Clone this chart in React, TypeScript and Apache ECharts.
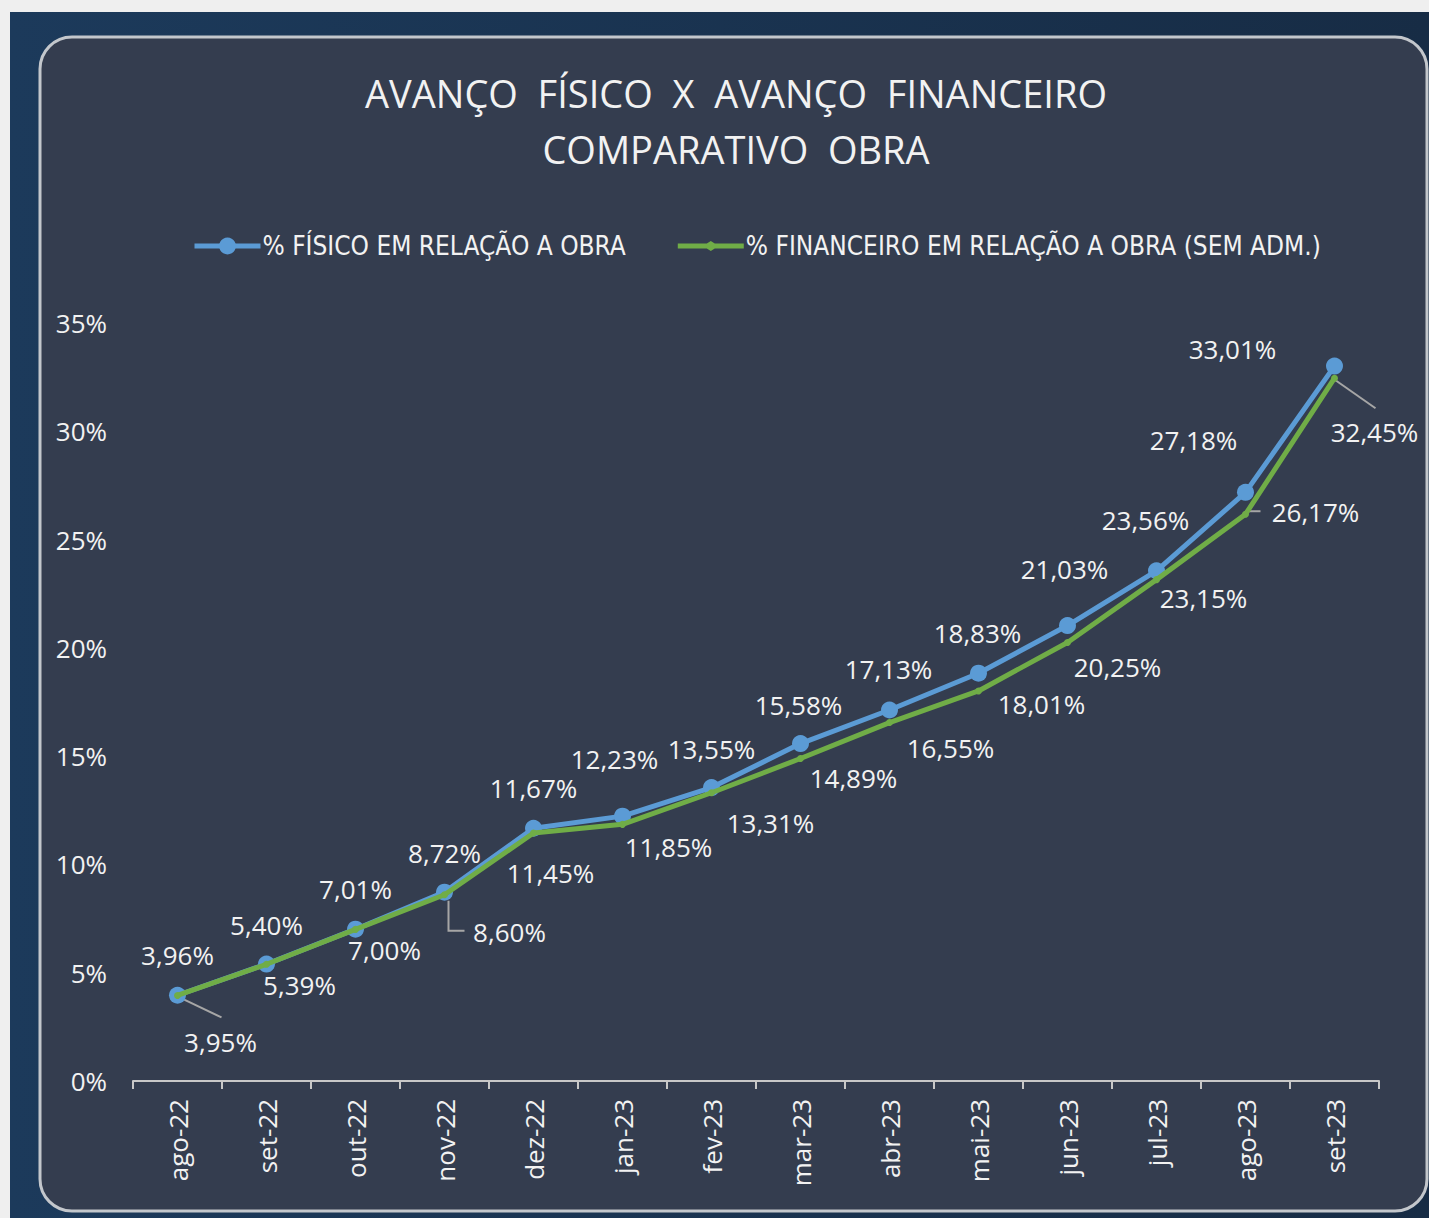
import React, { useEffect, useRef } from "react";
import * as echarts from "echarts";

const categories = ["ago-22", "set-22", "out-22", "nov-22", "dez-22", "jan-23", "fev-23", "mar-23", "abr-23", "mai-23", "jun-23", "jul-23", "ago-23", "set-23"];
const fisico = [3.96, 5.40, 7.01, 8.72, 11.67, 12.23, 13.55, 15.58, 17.13, 18.83, 21.03, 23.56, 27.18, 33.01];
const financeiro = [3.95, 5.39, 7.00, 8.60, 11.45, 11.85, 13.31, 14.89, 16.55, 18.01, 20.25, 23.15, 26.17, 32.45];
const yTicks = [0, 5, 10, 15, 20, 25, 30, 35];

const seriesNames = ["% FÍSICO EM RELAÇÃO A OBRA", "% FINANCEIRO EM RELAÇÃO A OBRA (SEM ADM.)"];

// label placement (offset of label centre from point, px)
const fisicoLabelOffsets = [
  [0, -40], [0, -39], [0, -40], [0, -39], [0, -40], [-8, -57], [0, -39],
  [-2, -39], [-1, -41], [-1, -40], [-3, -57], [-11, -51], [-52, -52], [-102, -17],
];
const financeiroLabelOffsets = [
  [43, 47], [33, 21], [29, 21], [65, 37], [17, 40], [46, 23], [59, 30],
  [53, 19], [61, 25], [63, 13], [50, 25], [47, 18], [70, -2], [40, 54],
];
// leader line shapes (offsets from point, px) for some financeiro labels
const leaderShapes: Record<number, number[][]> = {
  0: [[2, 2], [44, 22]],
  3: [[4, 6], [4, 36], [20, 36]],
  12: [[0, -3], [15, -3]],
  13: [[1, 2], [41, 30]],
};

const fmt = (v: number) => v.toFixed(2).replace(".", ",") + "%";

// legend icon: thick line with a small diamond marker
const greenLegendIcon =
  "path://M0,8.5L29,8.5L33,6L37,8.5L66,8.5L66,13.5L37,13.5L33,16L29,13.5L0,13.5Z";

export default function App() {
  const ref = useRef<HTMLDivElement>(null);
  useEffect(() => {
    if (!ref.current) return;
    const chart = echarts.init(ref.current, null, { renderer: "svg" });
    const labelFont = { fontFamily: "Open Sans", fontSize: 26, color: "#f2f2f2" };
    const mkLayout = (offs: number[][]) => (params: any) => {
      const o = offs[params.dataIndex] || [0, 0];
      const r = params.rect;
      return {
        x: r.x + r.width / 2 + o[0],
        y: r.y + r.height / 2 + o[1],
        align: "center",
        verticalAlign: "middle",
      };
    };
    chart.setOption({
      animation: false,
      graphic: [
        { type: "rect", z: -10, shape: { x: 0, y: 0, width: 1429, height: 1218 }, style: { fill: "#efefef" }, silent: true },
        {
          type: "rect", z: -9, shape: { x: 10, y: 12, width: 1419, height: 1206 },
          style: {
            fill: new echarts.graphic.LinearGradient(0, 0, 1, 0, [
              { offset: 0, color: "#1c3a5b" },
              { offset: 1, color: "#172c45" },
            ]),
          },
          silent: true,
        },
        {
          type: "rect", z: -8, shape: { x: 40, y: 37, width: 1387, height: 1174, r: 32 },
          style: { fill: "#343d4f", stroke: "#c3c7cc", lineWidth: 3 },
          silent: true,
        },
      ],
      title: {
        text: "AVANÇO  FÍSICO  X  AVANÇO  FINANCEIRO\nCOMPARATIVO  OBRA",
        left: 731,
        textAlign: "center",
        top: 60,
        textStyle: { fontFamily: "Open Sans", fontSize: 38, fontWeight: "normal", color: "#f2f2f2", lineHeight: 56 },
      },
      legend: {
        left: 187,
        top: 228,
        itemWidth: 66,
        itemHeight: 21,
        itemGap: 52,
        textStyle: { fontFamily: "Liberation Sans Narrow, DejaVu Sans Condensed, sans-serif", fontSize: 26, color: "#f2f2f2", padding: [0, 0, 0, -3] },
        data: [
          { name: seriesNames[0], itemStyle: { color: "#5b9bd5" }, lineStyle: { color: "#5b9bd5", width: 5 } },
          { name: seriesNames[1], icon: greenLegendIcon, itemStyle: { color: "#70ad47" } },
        ],
      },
      grid: { left: 133, right: 50, top: 323, bottom: 137 },
      xAxis: {
        type: "category",
        data: categories,
        boundaryGap: true,
        axisLine: { lineStyle: { color: "#c8c8c8", width: 2 } },
        axisTick: { show: true, length: 8, interval: 0, lineStyle: { color: "#c8c8c8", width: 2 } },
        axisLabel: { rotate: 90, interval: 0, margin: 18, fontFamily: "Open Sans", fontSize: 26, color: "#f2f2f2" },
      },
      yAxis: {
        type: "value",
        min: yTicks[0],
        max: yTicks[yTicks.length - 1],
        interval: 5,
        axisLine: { show: false },
        axisTick: { show: false },
        splitLine: { show: false },
        axisLabel: { margin: 26, fontFamily: "Open Sans", fontSize: 26, color: "#f2f2f2", formatter: (v: number) => v + "%" },
      },
      series: [
        {
          name: seriesNames[0],
          type: "line",
          data: fisico,
          symbol: "circle",
          symbolSize: 17,
          itemStyle: { color: "#5b9bd5" },
          lineStyle: { color: "#5b9bd5", width: 5 },
          label: { show: true, ...labelFont, formatter: (p: any) => fmt(p.value) },
          labelLayout: mkLayout(fisicoLabelOffsets),
          z: 2,
        },
        {
          name: "leaders",
          type: "custom",
          data: financeiro.map((v, i) => [i, v]),
          silent: true,
          z: 1,
          renderItem: (params: any, api: any) => {
            const i = params.dataIndex;
            const shape = leaderShapes[i];
            if (!shape) return null;
            const p = api.coord([api.value(0), api.value(1)]);
            return {
              type: "polyline",
              shape: { points: shape.map((o) => [p[0] + o[0], p[1] + o[1]]) },
              style: { stroke: "#a6a6a6", lineWidth: 2, fill: "none" },
            };
          },
        },
        {
          name: seriesNames[1],
          type: "line",
          data: financeiro,
          symbol: "circle",
          symbolSize: 7,
          itemStyle: { color: "#70ad47" },
          lineStyle: { color: "#70ad47", width: 5 },
          label: { show: true, ...labelFont, formatter: (p: any) => fmt(p.value) },
          labelLayout: mkLayout(financeiroLabelOffsets),
          z: 3,
        },
      ],
    });
    return () => chart.dispose();
  }, []);
  return <div ref={ref} style={{ position: "absolute", left: 0, top: 0, width: 1429, height: 1218 }} />;
}
